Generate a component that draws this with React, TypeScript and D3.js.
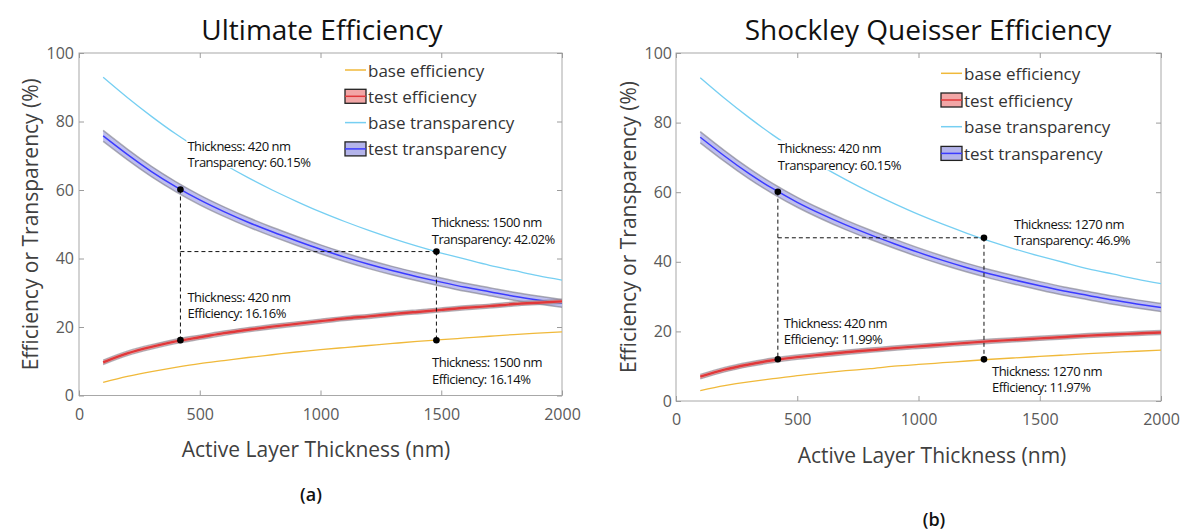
import * as d3 from "d3";
import { useRef, useEffect } from "react";

const FONT = "'Open Sans', 'Noto Sans', sans-serif";

// active layer thickness (nm)
const thickness = [100, 200, 300, 400, 500, 600, 700, 800, 900, 1000, 1100, 1200, 1300, 1400, 1500, 1600, 1700, 1800, 1900, 2000];

// transparency curves are the same in both panels
const baseTransparency = [92.9, 87.0, 81.5, 76.4, 71.8, 67.5, 63.6, 60.0, 56.7, 53.6, 50.8, 48.2, 45.8, 43.6, 41.6, 39.8, 38.0, 36.5, 35.0, 33.7];
const testTransparency = [75.8, 70.4, 65.4, 61.0, 57.1, 53.7, 50.6, 47.8, 45.2, 42.7, 40.4, 38.3, 36.4, 34.7, 33.1, 31.6, 30.3, 29.0, 27.9, 26.9];
const testTransparencySpread = [1.6, 1.55, 1.5, 1.46, 1.42, 1.39, 1.36, 1.33, 1.31, 1.29, 1.27, 1.25, 1.23, 1.22, 1.2, 1.19, 1.18, 1.17, 1.16, 1.15];

// (a) ultimate efficiency
const ueBaseEfficiency = [3.85, 5.6, 7.0, 8.2, 9.3, 10.2, 11.1, 11.9, 12.7, 13.4, 14.0, 14.6, 15.2, 15.8, 16.3, 16.8, 17.3, 17.8, 18.2, 18.6];
const ueTestEfficiency = [9.7, 12.3, 14.2, 15.8, 17.0, 18.2, 19.2, 20.1, 20.9, 21.7, 22.5, 23.1, 23.8, 24.4, 25.0, 25.6, 26.1, 26.7, 27.1, 27.5];

// (b) shockley queisser efficiency
const sqBaseEfficiency = [3.0, 4.4, 5.5, 6.4, 7.3, 8.0, 8.7, 9.3, 10.0, 10.5, 11.0, 11.5, 12.0, 12.4, 12.8, 13.2, 13.6, 13.95, 14.3, 14.6];
const sqTestEfficiency = [7.0, 9.0, 10.5, 11.7, 12.6, 13.3, 14.0, 14.6, 15.2, 15.7, 16.2, 16.7, 17.2, 17.6, 18.0, 18.4, 18.8, 19.1, 19.4, 19.7];

const testEfficiencySpread = [0.65, 0.65, 0.64, 0.64, 0.63, 0.63, 0.62, 0.62, 0.61, 0.61, 0.6, 0.6, 0.6, 0.59, 0.59, 0.59, 0.58, 0.58, 0.58, 0.58];

const xTicks = [0, 500, 1000, 1500, 2000];
const yTicks = [0, 20, 40, 60, 80, 100];
const legendLabels = ["base efficiency", "test efficiency", "base transparency", "test transparency"];

// data tips: transparency @ A, efficiency @ A, transparency @ B, efficiency @ B
const ueTips = [
  { x: 420, y: 60.15, lines: ["Thickness: 420 nm", "Transparency: 60.15%"] },
  { x: 420, y: 16.16, lines: ["Thickness: 420 nm", "Efficiency: 16.16%"] },
  { x: 1480, y: 42.02, lines: ["Thickness: 1500 nm", "Transparency: 42.02%"] },
  { x: 1480, y: 16.14, lines: ["Thickness: 1500 nm", "Efficiency: 16.14%"] },
];
const sqTips = [
  { x: 420, y: 60.15, lines: ["Thickness: 420 nm", "Transparency: 60.15%"] },
  { x: 420, y: 11.99, lines: ["Thickness: 420 nm", "Efficiency: 11.99%"] },
  { x: 1270, y: 46.9, lines: ["Thickness: 1270 nm", "Transparency: 46.9%"] },
  { x: 1270, y: 11.97, lines: ["Thickness: 1270 nm", "Efficiency: 11.97%"] },
];

const COLORS = {
  baseEff: "#F0B93A",
  baseTrans: "#76CFF2",
  effLine: "#E0383A",
  effFill: "#F2A6A6",
  transLine: "#3B3BFF",
  transFill: "#B4B4EA",
  edge: "#7a7a86",
};

function Panel({ cfg }) {
  const { left, right, top, bottom } = cfg;
  const gb = useRef(null);
  const gt = useRef(null);
  const gl = useRef(null);
  const gr = useRef(null);

  const x = d3.scaleLinear([0, 2000], [left, right]);
  const y = d3.scaleLinear([0, 100], [bottom, top]);

  const line = d3.line().x((d) => x(d[0])).y((d) => y(d[1])).curve(d3.curveNatural);
  const band = d3.area().x((d) => x(d[0])).y0((d) => y(d[1] - d[2])).y1((d) => y(d[1] + d[2])).curve(d3.curveNatural);

  const pts = (vals) => thickness.map((t, i) => [t, vals[i]]);
  const bandPts = (vals, spread) => thickness.map((t, i) => [t, vals[i], spread[i]]);
  const edge = (vals, spread, s) => thickness.map((t, i) => [t, vals[i] + s * spread[i]]);

  useEffect(() => {
    const style = (g) => {
      g.select(".domain").remove();
      g.selectAll("line").attr("stroke", "#9c9c9c");
      g.selectAll("text").attr("fill", "#5a5a5a").style("font-family", FONT).style("font-size", "16px");
    };
    const fmt = d3.format("d");
    d3.select(gb.current).call(d3.axisBottom(x).tickValues(xTicks).tickFormat(fmt).tickSizeInner(-5).tickSizeOuter(0).tickPadding(13)).call(style);
    d3.select(gt.current).call(d3.axisTop(x).tickValues(xTicks).tickSizeInner(-5).tickSizeOuter(0).tickFormat(() => "")).call(style);
    d3.select(gl.current).call(d3.axisLeft(y).tickValues(yTicks).tickFormat(fmt).tickSizeInner(-5).tickSizeOuter(0).tickPadding(cfg.yPad)).call(style);
    d3.select(gr.current).call(d3.axisRight(y).tickValues(yTicks).tickSizeInner(-5).tickSizeOuter(0).tickFormat(() => "")).call(style);
  });

  const [tA, eA, tB, eB] = cfg.tips;

  return (
    <g>
      <text x={cfg.titleX} y={40} textAnchor="middle" fontFamily={FONT} fontSize={28} fill="#111">{cfg.title}</text>

      <rect x={left} y={top} width={right - left} height={bottom - top} fill="white" stroke="#a8a8a8" strokeWidth={1} />
      <g ref={gb} transform={`translate(0,${bottom})`} />
      <g ref={gt} transform={`translate(0,${top})`} />
      <g ref={gl} transform={`translate(${left},0)`} />
      <g ref={gr} transform={`translate(${right},0)`} />

      {/* base curves */}
      <path d={line(pts(cfg.baseEff))} fill="none" stroke={COLORS.baseEff} strokeWidth={1.3} />
      <path d={line(pts(baseTransparency))} fill="none" stroke={COLORS.baseTrans} strokeWidth={1.3} />

      {/* test transparency band */}
      <path d={band(bandPts(testTransparency, testTransparencySpread))} fill={COLORS.transFill} fillOpacity={0.85} />
      <path d={line(edge(testTransparency, testTransparencySpread, 1))} fill="none" stroke={COLORS.edge} strokeOpacity={0.6} strokeWidth={1.5} />
      <path d={line(edge(testTransparency, testTransparencySpread, -1))} fill="none" stroke={COLORS.edge} strokeOpacity={0.6} strokeWidth={1.5} />
      <path d={line(pts(testTransparency))} fill="none" stroke={COLORS.transLine} strokeWidth={1.5} />

      {/* test efficiency band */}
      <path d={band(bandPts(cfg.testEff, testEfficiencySpread))} fill={COLORS.effFill} fillOpacity={0.85} />
      <path d={line(edge(cfg.testEff, testEfficiencySpread, 1))} fill="none" stroke={COLORS.edge} strokeOpacity={0.55} strokeWidth={1.4} />
      <path d={line(edge(cfg.testEff, testEfficiencySpread, -1))} fill="none" stroke={COLORS.edge} strokeOpacity={0.55} strokeWidth={1.4} />
      <path d={line(pts(cfg.testEff))} fill="none" stroke={COLORS.effLine} strokeWidth={2.4} />

      {/* guide lines */}
      <g stroke="#111" strokeWidth={1} strokeDasharray="4,3" fill="none">
        <line x1={x(tA.x)} x2={x(eA.x)} y1={y(tA.y)} y2={y(eA.y)} />
        <line x1={x(tA.x)} x2={x(tB.x)} y1={y(tB.y)} y2={y(tB.y)} />
        <line x1={x(tB.x)} x2={x(eB.x)} y1={y(tB.y)} y2={y(eB.y)} />
      </g>

      {/* data tips (the first one hides the base transparency line behind it) */}
      {cfg.tips.map((tip, i) => {
        const [dx, dy] = cfg.tipOffsets[i];
        const tx = x(tip.x) + dx;
        const ty = y(tip.y) + dy;
        const w = d3.max(tip.lines, (s) => s.length) * 6.2 + 4;
        return (
          <g key={i}>
            {i === 0 && <rect x={tx - 1} y={ty - 8} width={w} height={30} fill="white" />}
            {tip.lines.map((s, j) => (
              <text key={j} x={tx} y={ty + j * 16.5} dominantBaseline="central" fontFamily={FONT} fontSize={13} letterSpacing={-0.5} fill="#111">{s}</text>
            ))}
          </g>
        );
      })}
      <g fill="#000">
        {cfg.tips.map((tip, i) => (
          <circle key={i} cx={x(tip.x)} cy={y(tip.y)} r={3.3} />
        ))}
      </g>

      {/* legend */}
      {legendLabels.map((label, i) => {
        const cy = cfg.legendY + i * cfg.legendStep;
        const lx = cfg.legendX;
        return (
          <g key={label}>
            {i === 0 && <line x1={lx} x2={lx + 21} y1={cy} y2={cy} stroke={COLORS.baseEff} strokeWidth={1.5} />}
            {i === 2 && <line x1={lx} x2={lx + 21} y1={cy} y2={cy} stroke={COLORS.baseTrans} strokeWidth={1.5} />}
            {(i === 1 || i === 3) && (
              <g>
                <rect x={lx} y={cy - 7} width={21} height={14} fill={i === 1 ? COLORS.effFill : COLORS.transFill} stroke="#222" strokeWidth={1.3} />
                <line x1={lx} x2={lx + 21} y1={cy} y2={cy} stroke={i === 1 ? COLORS.effLine : COLORS.transLine} strokeWidth={1.5} />
              </g>
            )}
            <text x={lx + 23} y={cy} dominantBaseline="central" fontFamily={FONT} fontSize={17} fill="#333">{label}</text>
          </g>
        );
      })}

      {/* axis labels */}
      <text transform={`translate(${cfg.yLabelX},${(top + bottom) / 2}) rotate(-90)`} textAnchor="middle" dominantBaseline="central" fontFamily={FONT} fontSize={21} fill="#404040">Efficiency or Transparency (%)</text>
      <text x={cfg.xLabelX} y={cfg.xLabelY} textAnchor="middle" dominantBaseline="central" fontFamily={FONT} fontSize={21} fill="#404040">Active Layer Thickness (nm)</text>
      <text x={cfg.captionX} y={cfg.captionY} textAnchor="middle" dominantBaseline="central" fontFamily={FONT} fontSize={18} fontWeight={600} fill="#111">{cfg.caption}</text>
    </g>
  );
}

const panelA = {
  title: "Ultimate Efficiency",
  caption: "(a)",
  baseEff: ueBaseEfficiency,
  testEff: ueTestEfficiency,
  tips: ueTips,
  tipOffsets: [[7, -43.5], [7, -43.5], [-4.7, -29.3], [-4.4, 22]],
  left: 79, right: 562, top: 53, bottom: 395.5,
  yPad: 5,
  titleX: 322, yLabelX: 30, xLabelX: 316, xLabelY: 449,
  captionX: 311, captionY: 494,
  legendX: 345, legendY: 70, legendStep: 26.3,
};

const panelB = {
  title: "Shockley Queisser Efficiency",
  caption: "(b)",
  baseEff: sqBaseEfficiency,
  testEff: sqTestEfficiency,
  tips: sqTips,
  tipOffsets: [[0, -43.4], [6, -36.6], [30, -13.8], [8, 11.4]],
  left: 676, right: 1161, top: 53, bottom: 401,
  yPad: 4,
  titleX: 928, yLabelX: 628, xLabelX: 932, xLabelY: 455,
  captionX: 934, captionY: 519,
  legendX: 941, legendY: 73.3, legendStep: 26.7,
};

export default function App() {
  return (
    <svg width={1196} height={531} style={{ position: "absolute", left: 0, top: 0, background: "white" }}>
      <Panel cfg={panelA} />
      <Panel cfg={panelB} />
    </svg>
  );
}
